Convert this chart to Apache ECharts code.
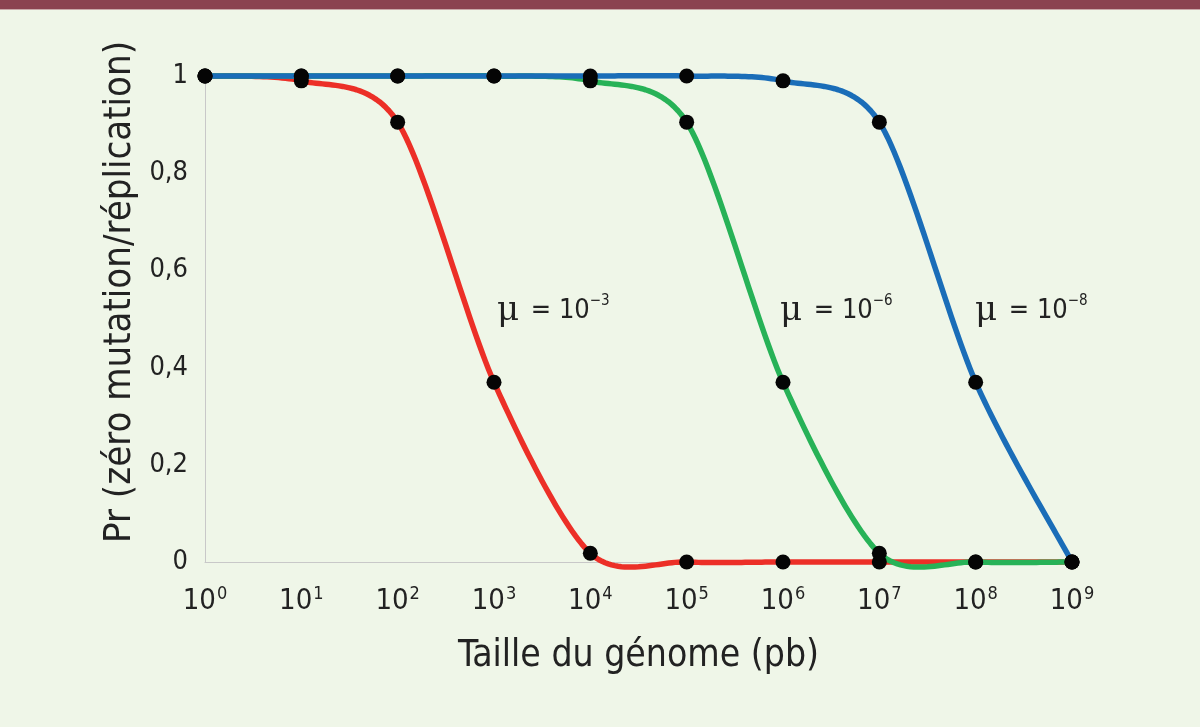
<!DOCTYPE html>
<html><head><meta charset="utf-8">
<script src="https://cdn.jsdelivr.net/npm/echarts@6/dist/echarts.min.js"></script>
<style>html,body{margin:0;padding:0;background:#eff6e8;}#top{height:9px;background:#8b4350;border-bottom:1px solid #c9a9a9;}#c{width:1200px;height:717px;}</style>
</head><body><div id="top"></div><div id="c"></div>
<script>
const sizes = [1,10,100,1e3,1e4,1e5,1e6,1e7,1e8,1e9];
const redValues   = [1,0.99,0.905,0.37,0.018,0,0,0,0,0];
const greenValues = [1,1,1,1,0.99,0.905,0.37,0.018,0,0];
const blueValues  = [1,1,1,1,1,1,0.99,0.905,0.37,0];
const muLabels = ['−3','−6','−8'];
const yTitle = 'Pr (zéro mutation/réplication)';
const xTitle = 'Taille du génome (pb)';
const FONT = "'Liberation Sans Narrow','DejaVu Sans Condensed',sans-serif";

const chart = echarts.init(document.getElementById('c'));
function curve(vals,color,z){
  return {type:'custom',coordinateSystem:'cartesian2d',z:z,silent:true,
    data:[[sizes[0],vals[0]]],
    renderItem:(params,api)=>{
      const P = sizes.map((s,i)=>api.coord([s,vals[i]]));
      const pts=[], f=1/7;
      for(let i=0;i<P.length-1;i++){
        const p0=P[Math.max(i-1,0)],p1=P[i],p2=P[i+1],p3=P[Math.min(i+2,P.length-1)];
        const c1=[p1[0]+(p2[0]-p0[0])*f,p1[1]+(p2[1]-p0[1])*f];
        const c2=[p2[0]-(p3[0]-p1[0])*f,p2[1]-(p3[1]-p1[1])*f];
        for(let k=(i?1:0);k<=30;k++){
          const t=k/30,u=1-t;
          pts.push([u*u*u*p1[0]+3*u*u*t*c1[0]+3*u*t*t*c2[0]+t*t*t*p2[0],
                    u*u*u*p1[1]+3*u*u*t*c1[1]+3*u*t*t*c2[1]+t*t*t*p2[1]]);
        }
      }
      return {type:'polyline',shape:{points:pts},style:{stroke:color,lineWidth:5.5,fill:null,lineJoin:'round',lineCap:'round'}};
    }};
}
function dots(vals){
  return {type:'scatter',z:10,silent:true,symbol:'circle',symbolSize:15,itemStyle:{color:'#050505',opacity:1},
    data:sizes.map((s,i)=>[s,vals[i]])};
}
function muText(x,lab){
  return {type:'text',x:x,y:284,style:{rich:{
      m:{fontFamily:'DejaVu Serif',fontSize:34,fill:'#222'},
      t:{fontFamily:FONT,fontSize:27,fill:'#222',padding:[0,0,0,4]},
      s:{fontFamily:FONT,fontSize:15,fill:'#222',verticalAlign:'top',padding:[0,0,16,0]}},
    text:'{m|μ}{t| = 10}{s|'+lab+'}'}};
}
chart.setOption({
  backgroundColor:'#eff6e8',
  animation:false,
  grid:{left:205,right:128,top:66,bottom:165},
  xAxis:{type:'log',logBase:10,min:1,max:1e9,
    name:xTitle,nameLocation:'middle',nameGap:76,
    nameTextStyle:{fontFamily:FONT,fontSize:37,color:'#222'},
    axisLine:{lineStyle:{color:'#c8c8c8',width:1}},axisTick:{show:false},splitLine:{show:false},
    axisLabel:{margin:23,formatter:v=>'{b|10}{s|'+Math.round(Math.log10(v))+'}',
      rich:{b:{fontFamily:FONT,fontSize:29,color:'#222'},s:{fontFamily:FONT,fontSize:18,color:'#222',verticalAlign:'top',padding:[0,0,14,1]}}}},
  yAxis:{type:'value',min:0,max:1,interval:0.2,
    axisLine:{show:true,lineStyle:{color:'#c8c8c8',width:1}},axisTick:{show:false},splitLine:{show:false},
    axisLabel:{margin:17,fontFamily:FONT,fontSize:27,color:'#222',padding:[0,0,10,0],
      formatter:v=>String(+v.toFixed(1)).replace('.',',')}},
  series:[curve(redValues,'#ec2f27',2),curve(greenValues,'#27b257',3),curve(blueValues,'#1a6db8',4),
    dots(redValues),dots(greenValues),dots(blueValues)],
  graphic:[
    {type:'text',x:120,y:282,rotation:Math.PI/2,style:{text:yTitle,fontFamily:FONT,fontSize:38,fill:'#222',align:'center',verticalAlign:'middle'}},
    muText(497,muLabels[0]),muText(780,muLabels[1]),muText(975,muLabels[2])
  ]
});
</script></body></html>
